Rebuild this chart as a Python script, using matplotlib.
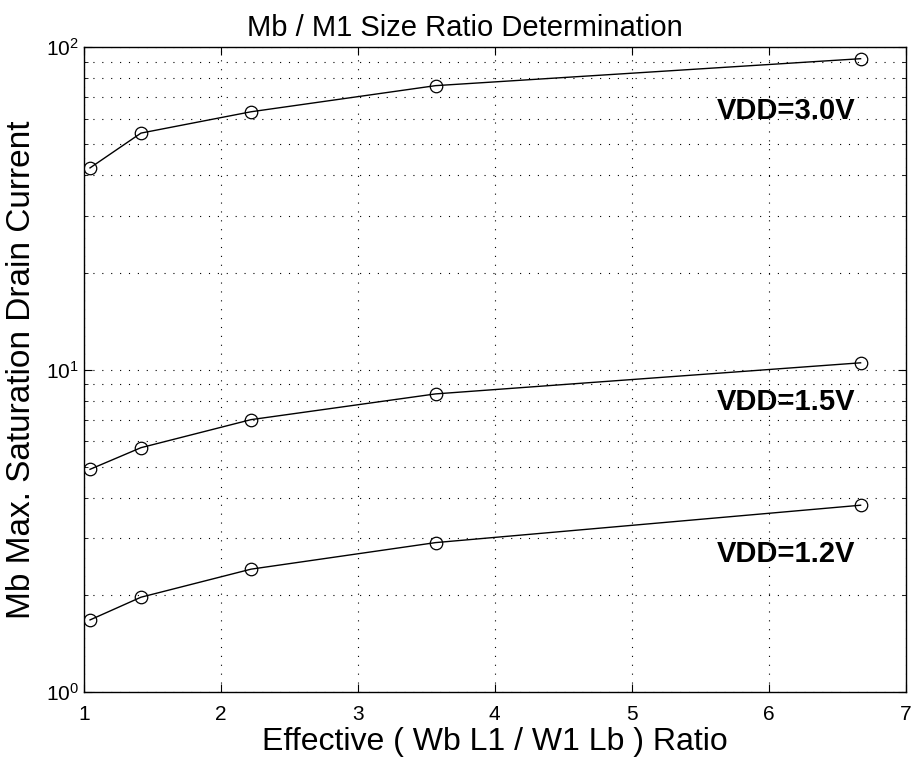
import matplotlib
matplotlib.use('Agg')
import matplotlib.pyplot as plt
from matplotlib.ticker import LogLocator, NullFormatter

plt.rcParams['font.family'] = ['Liberation Sans', 'DejaVu Sans']

# effective ratio on the x axis
ratio = [1.046, 1.418, 2.222, 3.568, 6.671]

# max saturation drain current for each supply
vdd30 = [42.2, 54.1, 63.0, 75.9, 92.0]
vdd15 = [4.91, 5.73, 7.0, 8.41, 10.5]
vdd12 = [1.676, 1.971, 2.408, 2.91, 3.80]

labels = ['VDD=3.0V', 'VDD=1.5V', 'VDD=1.2V']
label_y = [60.0, 7.5, 2.54]

fig = plt.figure(figsize=(9.15, 7.62), dpi=100)
ax = fig.add_axes([0.0915, 0.0915, 0.8983, 0.8468])

for ys in (vdd30, vdd15, vdd12):
    ax.plot(ratio, ys, color='black', lw=1.0, marker='o', ms=9,
            mfc='none', mec='black', mew=0.9)

for txt, y in zip(labels, label_y):
    ax.text(6.63, y, txt, ha='right', va='baseline', fontsize=21,
            fontweight='bold')

ax.set_yscale('log')
ax.set_xlim(1, 7)
ax.set_ylim(1, 100)
ax.yaxis.set_major_locator(LogLocator(base=10, numticks=10))
ax.yaxis.set_minor_locator(LogLocator(base=10, subs=range(2, 10), numticks=10))
ax.yaxis.set_minor_formatter(NullFormatter())

dots = (0, (1, 7))
ax.grid(True, which='major', axis='x', ls=dots, color='black', lw=0.8)
ax.grid(True, which='both', axis='y', ls=dots, color='black', lw=0.8)

ax.tick_params(which='both', direction='in', top=True, right=True,
               labelsize=15)
ax.tick_params(which='major', length=6)
ax.tick_params(which='minor', length=3)
ax.tick_params(axis='x', pad=9)
for s in ax.spines.values():
    s.set_linewidth(1.0)

ax.set_title('Mb / M1 Size Ratio Determination', fontsize=21, pad=8, x=0.464)
ax.set_xlabel('Effective ( Wb L1 / W1 Lb ) Ratio', fontsize=23, labelpad=2)
ax.set_ylabel('Mb Max. Saturation Drain Current', fontsize=24, labelpad=6)

fig.savefig('out.png', dpi=100)
